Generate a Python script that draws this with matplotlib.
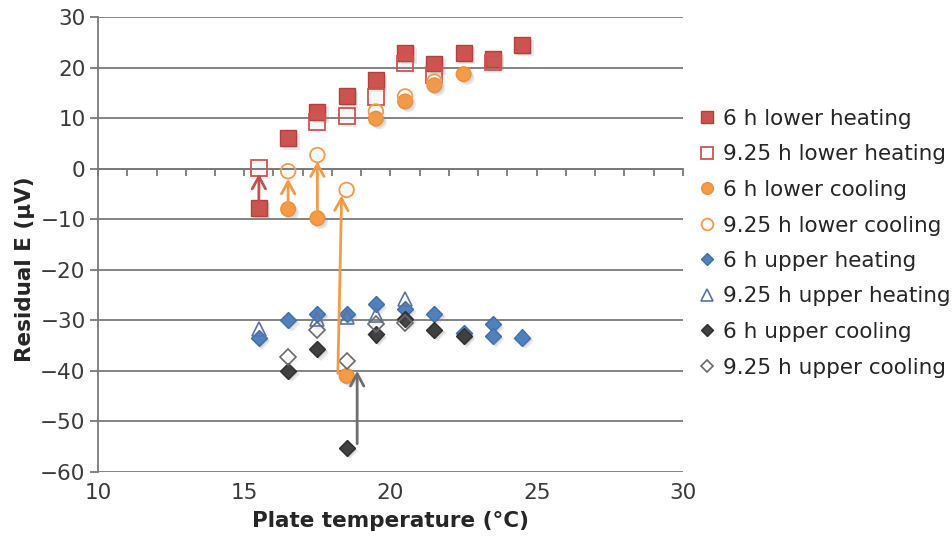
import matplotlib
matplotlib.use("Agg")
import matplotlib.pyplot as plt
import matplotlib.patheffects as pe
from matplotlib.lines import Line2D

# ---------------- data ----------------
x_lh6 = [15.5, 16.5, 17.5, 18.5, 19.5, 20.5, 21.5, 22.5, 23.5, 24.5]
y_lh6 = [-7.7, 6.0, 11.3, 14.3, 17.5, 22.9, 20.8, 22.9, 21.6, 24.5]
x_lh9 = [15.5, 17.5, 18.5, 19.5, 20.5, 21.5, 23.5]
y_lh9 = [0.1, 9.3, 10.4, 14.1, 20.8, 18.5, 21.0]
x_lc6 = [16.5, 17.5, 18.5, 19.5, 20.5, 21.5, 22.5]
y_lc6 = [-8.0, -9.8, -41.0, 9.9, 13.3, 16.5, 18.7]
x_lc9 = [16.5, 17.5, 18.5, 19.5, 20.5, 21.5]
y_lc9 = [-0.5, 2.7, -4.2, 11.3, 14.3, 17.2]
x_uh6 = [15.5, 16.5, 17.5, 18.5, 19.5, 20.5, 21.5, 22.5, 23.5, 23.5, 24.5]
y_uh6 = [-33.5, -30.0, -28.7, -28.7, -26.8, -27.7, -28.7, -32.6, -30.8, -33.1, -33.4]
x_uh9 = [15.5, 17.5, 18.5, 19.5, 20.5]
y_uh9 = [-31.8, -29.8, -29.3, -28.9, -25.8]
x_uc6 = [16.5, 17.5, 18.5, 19.5, 20.5, 21.5, 22.5]
y_uc6 = [-40.0, -35.7, -55.2, -32.8, -29.7, -31.9, -33.1]
x_uc9 = [16.5, 17.5, 18.5, 19.5, 20.5]
y_uc9 = [-37.2, -31.9, -38.0, -30.8, -30.5]

labels = ["6 h lower heating", "9.25 h lower heating", "6 h lower cooling",
          "9.25 h lower cooling", "6 h upper heating", "9.25 h upper heating",
          "6 h upper cooling", "9.25 h upper cooling"]

# arrows (start -> end)
arr_x0 = [15.5, 16.5, 17.5, 18.2, 18.86]
arr_y0 = [-6.5, -6.8, -8.7, -40.5, -54.4]
arr_x1 = [15.5, 16.5, 17.5, 18.33, 18.86]
arr_y1 = [-1.0, -2.0, 1.45, -5.3, -40.0]
arr_c = ["#C0504D", "#F39A45", "#F39A45", "#F39A45", "#6E6E6E"]

xticks = [10, 15, 20, 25, 30]
yticks = [30, 20, 10, 0, -10, -20, -30, -40, -50, -60]

# ---------------- styles ----------------
styles = [
    dict(marker="s", ms=11.5, mfc="#CC5450", mec="#B4403C", mew=1.0),
    dict(marker="s", ms=11.5, mfc="none", mec="#D6524E", mew=1.3),
    dict(marker="o", ms=10.5, mfc="#F59A45", mec="#EC8E3C", mew=1.0),
    dict(marker="o", ms=10.5, mfc="none", mec="#F29A4E", mew=1.3),
    dict(marker="D", ms=8.2, mfc="#4F81BD", mec="#3F6EA8", mew=1.0),
    dict(marker="^", ms=10, mfc="none", mec="#5A72A8", mew=1.2),
    dict(marker="D", ms=8.2, mfc="#404040", mec="#2E2E2E", mew=1.0),
    dict(marker="D", ms=8.2, mfc="none", mec="#6A6A6A", mew=1.2),
]
series = [(x_lh6, y_lh6), (x_lh9, y_lh9), (x_lc6, y_lc6), (x_lc9, y_lc9),
          (x_uh6, y_uh6), (x_uh9, y_uh9), (x_uc6, y_uc6), (x_uc9, y_uc9)]

FS = 15.5

fig = plt.figure(figsize=(9.53, 5.40), dpi=100)
ax = fig.add_axes([98 / 953, 1 - 472 / 540, (683 - 98) / 953, (472 - 17) / 540])

shadow_full = [pe.SimplePatchShadow(offset=(2.5, -2.5), shadow_rgbFace="#8a8a8a", alpha=0.18),
               pe.SimplePatchShadow(offset=(1.5, -1.5), shadow_rgbFace="#8a8a8a", alpha=0.18),
               pe.Normal()]
shadow_light = [pe.SimplePatchShadow(offset=(2.0, -2.0), shadow_rgbFace="#9a9a9a", alpha=0.08),
                pe.Normal()]

for i, ((xs, ys), st) in enumerate(zip(series, styles)):
    eff = shadow_light if st["mfc"] == "none" else shadow_full
    ax.plot(xs, ys, linestyle="none", zorder=3 + i * 0.1,
            path_effects=eff, **st)

for x0, y0, x1, y1, c in zip(arr_x0, arr_y0, arr_x1, arr_y1, arr_c):
    ax.annotate("", xy=(x1, y1), xytext=(x0, y0),
                arrowprops=dict(arrowstyle="->,head_length=0.55,head_width=0.3",
                                color=c, lw=2, shrinkA=0, shrinkB=0,
                                mutation_scale=16),
                zorder=4)

ax.set_xlim(10, 30)
ax.set_ylim(-60, 30)
ax.set_xticks(xticks)
ax.set_yticks(yticks)
ax.grid(axis="y", color="#7a7a7a", linewidth=1.3, zorder=1)
ax.set_axisbelow(True)
for s in ["top", "right", "bottom"]:
    ax.spines[s].set_visible(False)
ax.spines["left"].set_color("#7a7a7a")
ax.spines["left"].set_linewidth(1.3)
ax.tick_params(axis="y", direction="out", length=6, width=1.3, color="#7a7a7a",
               labelsize=FS, labelcolor="#3a3a3a", pad=3)
ax.tick_params(axis="x", length=0, labelsize=FS, labelcolor="#3a3a3a", pad=8)

# horizontal axis crossing at y = 0 with integer ticks pointing down
sec = ax.secondary_xaxis(60 / 90)
sec.set_xticks(range(10, 31))
sec.set_xticklabels([])
sec.tick_params(direction="in", length=5, width=1.3, color="#7a7a7a")
for s in sec.spines.values():
    s.set_color("#7a7a7a")
    s.set_linewidth(1.3)

ax.set_xlabel("Plate temperature (°C)", fontsize=FS, fontweight="bold",
              color="#262626", labelpad=6)
ax.set_ylabel("Residual E (µV)", fontsize=FS, fontweight="bold",
              color="#262626", labelpad=4)
ax.yaxis.label.set_y(0.445)

handles = [Line2D([], [], linestyle="none", **dict(st, ms=st["ms"] * 0.8)) for st in styles]
leg = fig.legend(handles, labels, loc="upper left", bbox_to_anchor=(699 / 953, 1 - 109 / 540),
                 frameon=False, fontsize=FS, handlelength=0.7, handletextpad=0.4,
                 labelspacing=0.72, borderaxespad=0, borderpad=0)
for t in leg.get_texts():
    t.set_color("#262626")

fig.savefig("out.png", dpi=100)
